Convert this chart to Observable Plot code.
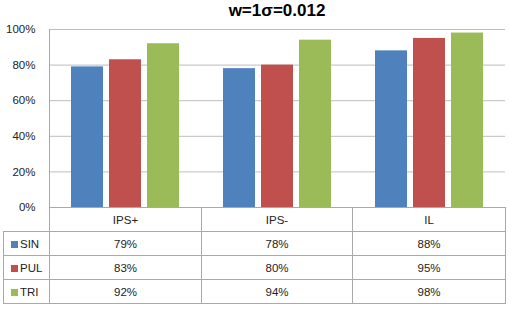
<!DOCTYPE html>
<html><head><meta charset="utf-8">
<script src="https://cdn.jsdelivr.net/npm/d3@7"></script>
<script src="https://cdn.jsdelivr.net/npm/@observablehq/plot@0.6"></script>
<style>
body{margin:0;background:#fff;font-family:"Liberation Sans",Arial,sans-serif;}
#wrap{position:relative;width:509px;height:314px;overflow:hidden;}
#title{position:absolute;left:49px;width:456px;top:1px;text-align:center;font-weight:bold;font-size:17px;color:#000;}
#chart{position:absolute;left:0;top:0;}
#tbl{position:absolute;left:3px;top:207px;border-collapse:collapse;table-layout:fixed;font-size:11.5px;color:#222;}
#tbl td{border:1px solid #a9a9a9;padding:0;text-align:center;height:23px;}
#tbl td.lab{text-align:left;padding-left:7px;}
#tbl td.blank{border-top:hidden;border-left:hidden;}
.sw{display:inline-block;width:7px;height:7px;margin-right:2px;}
</style></head>
<body><div id="wrap"><div id="title">w=1σ=0.012</div><div id="chart"></div><table id="tbl"></table></div>
<script>
const categories = ["IPS+", "IPS-", "IL"];
const series = ["SIN", "PUL", "TRI"];
const sinValues = [0.79, 0.78, 0.88];
const pulValues = [0.83, 0.80, 0.95];
const triValues = [0.92, 0.94, 0.98];
const yTicks = [0, 0.2, 0.4, 0.6, 0.8, 1.0];
const colors = ["#4f81bd", "#c0504d", "#9bbb59"];

const valuesBySeries = [sinValues, pulValues, triValues];
const rows = [];
categories.forEach((c, i) => series.forEach((s, j) => rows.push({cat: c, series: s, value: valuesBySeries[j][i]})));

const chart = Plot.plot({
  width: 509, height: 212,
  marginLeft: 49, marginRight: 4, marginTop: 29, marginBottom: 5,
  style: {fontFamily: "Liberation Sans, Arial, sans-serif", fontSize: "11.5px", color: "#222"},
  facet: {data: rows, x: "cat"},
  fx: {domain: categories, paddingInner: 0, paddingOuter: 0, axis: null},
  x: {domain: series, paddingInner: 0.154, paddingOuter: 0.526, axis: null},
  y: {domain: [0, 1], ticks: yTicks, tickFormat: d3.format(".0%"), tickSize: 0, tickPadding: 14, label: null},
  color: {domain: series, range: colors},
  marks: [
    Plot.gridY(yTicks, {stroke: "#bdbdbd", strokeOpacity: 1}),
    Plot.barY(rows, {x: "series", y: "value", fill: "series"}),
    Plot.frame({anchor: "left", stroke: "#a9a9a9", facet: "super"})
  ]
});
document.getElementById("chart").appendChild(chart);

const tbl = document.getElementById("tbl");
const cg = document.createElement("colgroup");
[46, 152, 151, 153].forEach(w => { const col = document.createElement("col"); col.style.width = w + "px"; cg.appendChild(col); });
tbl.appendChild(cg);
const hr = tbl.insertRow();
const b = hr.insertCell(); b.className = "blank";
categories.forEach(c => { hr.insertCell().textContent = c; });
series.forEach((s, j) => {
  const r = tbl.insertRow();
  const l = r.insertCell(); l.className = "lab";
  const sw = document.createElement("span"); sw.className = "sw"; sw.style.background = colors[j];
  l.appendChild(sw); l.appendChild(document.createTextNode(s));
  valuesBySeries[j].forEach(v => { r.insertCell().textContent = d3.format(".0%")(v); });
});
</script></body></html>
